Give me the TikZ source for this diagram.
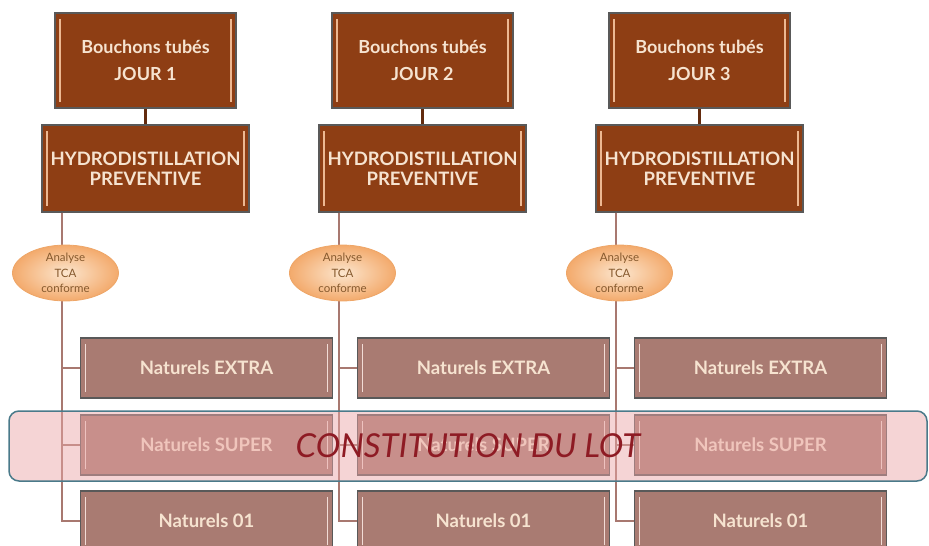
\documentclass[tikz,border=0pt]{standalone}
\usepackage{fontspec}
\setmainfont{Lato}
\usetikzlibrary{shapes.geometric}
\definecolor{brun}{HTML}{8E3E14}
\definecolor{rosebrun}{HTML}{A97B72}
\definecolor{creme}{HTML}{F6E3D0}
\definecolor{barre}{HTML}{EDB892}
\definecolor{barrenat}{HTML}{F2DCD6}
\definecolor{trait}{HTML}{A87870}
\definecolor{bordeau}{HTML}{8E1B24}
\definecolor{bleu}{HTML}{4A7A8A}
\definecolor{rosepale}{HTML}{EAA6A7}
\definecolor{orclair}{HTML}{FCE6CE}
\definecolor{orfonce}{HTML}{F3AA6C}
\tikzset{
 boite/.style={draw=black!65, line width=1.2pt, text=creme, align=center, inner sep=0pt,
  path picture={
   \draw[#1, line width=1.8pt] ([shift={(5pt,-6pt)}]path picture bounding box.north west) -- ([shift={(5pt,6pt)}]path picture bounding box.south west);
   \draw[#1, line width=1.8pt] ([shift={(-5pt,-6pt)}]path picture bounding box.north east) -- ([shift={(-5pt,6pt)}]path picture bounding box.south east);}},
 jour/.style={boite=barre, fill=brun, minimum width=181pt, minimum height=95pt, font=\bfseries\fontsize{18}{27}\selectfont},
 hydro/.style={boite=barre, fill=brun, minimum width=207pt, minimum height=87pt, font=\bfseries\fontsize{18.5}{20}\selectfont},
 natur/.style={boite=barrenat, fill=rosebrun, minimum width=252pt, minimum height=60pt, font=\bfseries\fontsize{18.5}{20}\selectfont},
 analyse/.style={ellipse, draw=orfonce!90!brown, line width=0.8pt, inner color=orclair, outer color=orfonce,
  minimum width=106pt, minimum height=55pt, inner sep=0pt, align=center, text=brown!70!black,
  font=\fontsize{11.5}{15.5}\selectfont},
 lien/.style={trait, line width=2pt},
}
\begin{document}
\begin{tikzpicture}[x=1pt,y=-1pt]
\useasboundingbox (0,0) rectangle (929,546);
\foreach \i/\cx in {1/145.5, 2/422.5, 3/699.5} {
 \node[jour] (jour\i) at (\cx,60.5) {Bouchons tubés\\JOUR \i};
 \node[hydro] (hyd\i) at (\cx,168.5) {HYDRODISTILLATION\\PREVENTIVE};
 \node[natur] (ext\i) at (\cx+61,368) {Naturels EXTRA};
 \node[natur] (sup\i) at (\cx+61,445) {Naturels SUPER};
 \node[natur] (n01\i) at (\cx+61,521) {Naturels 01};
 \draw[brun!70!black, line width=2.2pt] (jour\i) -- (hyd\i);
 \draw[lien] ([xshift=21pt]hyd\i.south west) |- (ext\i.west);
 \draw[lien] ([xshift=21pt]hyd\i.south west) |- (sup\i.west);
 \draw[lien] ([xshift=21pt]hyd\i.south west) |- (n01\i.west);
 \node[analyse] (ana\i) at (\cx-80,273) {Analyse\\TCA\\conforme};
}
\node[draw=bleu, line width=1.5pt, fill=rosepale, fill opacity=0.48, text opacity=1, rounded corners=10pt,
 minimum width=918pt, minimum height=70pt, text=bordeau, font=\itshape\fontsize{33}{35}\selectfont]
 (lot) at (468,446) {CONSTITUTION DU LOT};
\end{tikzpicture}
\end{document}
